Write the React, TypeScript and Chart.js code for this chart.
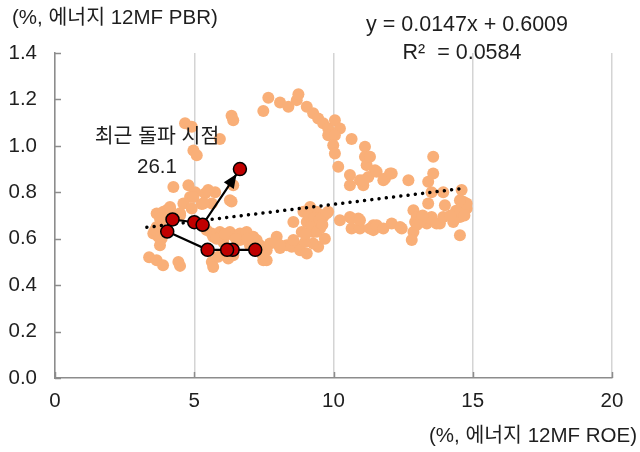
import React, { useEffect, useRef } from "react";
import { Chart, registerables } from "chart.js";

Chart.register(...registerables);

// Historical points: energy 12MF ROE (%) vs 12MF PBR
const roe = [
  3.38, 3.65, 3.88, 4.49, 3.77, 4.43,
  3.65, 4.01, 3.83, 3.89, 3.77, 3.65, 3.53, 3.83, 3.71, 3.59, 4.13, 4.49, 4.13, 4.49, 4.61, 4.91,
  4.67, 4.91, 4.97, 5.09, 5.92, 6.34, 6.4, 4.25, 4.79, 4.85, 5.39, 5.75, 6.34, 6.4, 5.27, 5.03, 5.5, 5.63, 6.28, 4.97, 5.33,
  5.45, 5.75, 6.04, 6.4, 6.76, 7.24, 7.72, 7.96, 5.63, 5.92, 6.28, 6.64, 6.88, 6.04, 6.64, 7.12, 7.0, 7.24, 5.63, 5.68, 5.86, 6.22, 6.4, 7.48, 7.96, 8.32, 5.68, 7.36, 8.08, 8.62,
  5.8, 6.1, 6.5, 6.9,
  7.42, 7.6, 7.6, 7.9, 8.08, 8.5, 8.8, 9.04, 9.45, 9.27, 8.98, 8.56, 8.86, 9.27, 9.04, 9.34, 8.56, 8.92, 9.16, 9.39, 9.63, 9.81, 9.52, 9.69, 9.75,
  9.1, 9.3, 9.5, 9.2, 9.4, 9.0, 9.6,
  10.23, 10.59, 10.89, 10.65, 10.95, 11.43, 10.65, 10.95, 11.43, 11.31, 11.55, 11.79, 12.09, 12.45, 12.39, 12.87, 12.93, 12.87, 12.81, 13.35, 13.52, 13.82, 13.46, 13.7, 13.94, 13.4, 14.0, 14.3, 14.54, 14.66, 14.78, 14.54, 14.36, 14.66, 14.78, 14.54, 14.6, 13.94, 13.52, 13.4, 13.58, 13.58, 12.99, 13.11,
  14.4, 14.7, 14.2, 13.2, 13.0,
  7.48, 7.66, 8.08, 8.38, 8.68, 8.74, 9.04, 9.27, 9.45, 9.63, 9.81, 10.05, 10.23, 9.81, 10.05, 9.99, 10.05, 10.65, 10.17, 11.13, 11.13, 11.19, 11.49, 10.59, 10.95, 11.25, 11.55, 12.03, 11.79, 12.69, 10.59, 11.07, 11.31, 11.07, 11.85, 12.09,
];
const pbr = [
  0.52, 0.507, 0.486, 0.483, 0.572, 0.5,
  0.709, 0.723, 0.68, 0.716, 0.687, 0.651, 0.622, 0.601, 0.608, 0.637, 0.737, 0.701, 0.73, 0.71, 0.752, 0.73,
  1.097, 1.082, 0.98, 0.96, 1.03, 1.13, 1.11, 0.823, 0.83, 0.78, 0.795, 0.8, 0.76, 0.83, 0.75, 0.8, 0.81, 0.752, 0.766, 0.78, 0.752,
  0.637, 0.615, 0.601, 0.615, 0.601, 0.594, 0.579, 0.608, 0.622, 0.629, 0.629, 0.622, 0.629, 0.586, 0.594, 0.608, 0.572, 0.565, 0.5, 0.478, 0.522, 0.515, 0.529, 0.507, 0.579, 0.572, 0.608, 0.572, 0.56, 0.576,
  0.6, 0.62, 0.6, 0.6,
  0.536, 0.55, 0.507, 0.586, 0.572, 0.565, 0.55, 0.536, 0.565, 0.579, 0.586, 0.594, 0.629, 0.629, 0.672, 0.666, 0.672, 0.716, 0.737, 0.716, 0.694, 0.716, 0.645, 0.6, 0.709,
  0.7, 0.69, 0.68, 0.65, 0.63, 0.62, 0.66,
  0.68, 0.694, 0.687, 0.644, 0.644, 0.637, 0.687, 0.68, 0.658, 0.644, 0.658, 0.644, 0.666, 0.644, 0.651, 0.723, 0.672, 0.629, 0.594, 0.666, 0.694, 0.666, 0.687, 0.666, 0.694, 0.752, 0.744, 0.672, 0.694, 0.759, 0.73, 0.615, 0.687, 0.723, 0.752, 0.766, 0.81, 0.8, 0.8, 0.845, 0.881, 0.953, 0.694, 0.672,
  0.72, 0.7, 0.7, 0.7, 0.66,
  1.15, 1.207, 1.187, 1.168, 1.197, 1.222, 1.168, 1.14, 1.118, 1.097, 1.075, 1.11, 1.075, 1.046, 1.046, 1.003, 0.967, 1.03, 0.91, 0.996, 0.953, 0.917, 0.895, 0.874, 0.852, 0.866, 0.888, 0.881, 0.852, 0.852, 0.83, 0.83, 0.953, 0.852, 0.859, 0.881,
];

// Recent path (ends at the latest breakout point)
const recentRoe = [7.19, 6.38, 6.18, 5.48, 4.03, 4.22, 5.0, 5.3, 6.64];
const recentPbr = [0.552, 0.552, 0.552, 0.552, 0.631, 0.683, 0.671, 0.66, 0.9];

// Linear trend line endpoints
const trendRoe = [3.3, 14.6];
const trendPbr = [0.649, 0.816];

const xTickValues = [0, 5, 10, 15, 20];
const yTickValues = [0, 0.2, 0.4, 0.6, 0.8, 1.0, 1.2, 1.4];

const yTitle = "(%, 에너지 12MF PBR)";
const xTitle = "(%, 에너지 12MF ROE)";
const equationText = "y = 0.0147x + 0.6009";
const r2Text = "R²  = 0.0584";
const noteTitle = "최근 돌파 시점";
const noteValue = "26.1";

const FONT = "'Liberation Sans', 'Noto Sans CJK KR', Arial, sans-serif";
const TEXT_COLOR = "#1e1e1e";
const AXIS_COLOR = "#8c8c8c";

export default function App() {
  const canvasRef = useRef<HTMLCanvasElement | null>(null);

  useEffect(() => {
    document.body.style.margin = "0";
    const canvas = canvasRef.current;
    if (!canvas) return;

    const toPts = (xs: number[], ys: number[]) => xs.map((x, i) => ({ x, y: ys[i] }));

    const decorPlugin = {
      id: "decor",
      afterDatasetDraw(chart: any, args: any) {
        if (args.index !== 1) return;
        const { ctx, scales } = chart;
        const n = recentRoe.length;
        const x1 = scales.x.getPixelForValue(recentRoe[n - 2]);
        const y1 = scales.y.getPixelForValue(recentPbr[n - 2]);
        const x2 = scales.x.getPixelForValue(recentRoe[n - 1]);
        const y2 = scales.y.getPixelForValue(recentPbr[n - 1]);
        const ang = Math.atan2(y2 - y1, x2 - x1);
        const tipX = x2 - Math.cos(ang) * 6;
        const tipY = y2 - Math.sin(ang) * 6;
        const len = 14;
        const half = 6;
        const bx = tipX - Math.cos(ang) * len;
        const by = tipY - Math.sin(ang) * len;
        ctx.save();
        ctx.fillStyle = "#000";
        ctx.beginPath();
        ctx.moveTo(tipX, tipY);
        ctx.lineTo(bx + Math.sin(ang) * half, by - Math.cos(ang) * half);
        ctx.lineTo(bx - Math.sin(ang) * half, by + Math.cos(ang) * half);
        ctx.closePath();
        ctx.fill();
        ctx.restore();
      },
      afterDraw(chart: any) {
        const { ctx, scales, chartArea } = chart;
        ctx.save();
        // inward tick marks
        ctx.strokeStyle = AXIS_COLOR;
        ctx.lineWidth = 1.5;
        yTickValues.forEach((v) => {
          const y = Math.round(scales.y.getPixelForValue(v)) + 0.5;
          ctx.beginPath();
          ctx.moveTo(chartArea.left, y);
          ctx.lineTo(chartArea.left + 6, y);
          ctx.stroke();
        });
        xTickValues.forEach((v) => {
          const x = Math.round(scales.x.getPixelForValue(v)) + 0.5;
          ctx.beginPath();
          ctx.moveTo(x, chartArea.bottom);
          ctx.lineTo(x, chartArea.bottom - 6);
          ctx.stroke();
        });
        // texts
        ctx.fillStyle = TEXT_COLOR;
        ctx.font = `20.5px ${FONT}`;
        ctx.textBaseline = "middle";
        ctx.textAlign = "left";
        ctx.fillText(yTitle, 12, 18);
        ctx.textAlign = "right";
        ctx.fillText(xTitle, 637, 436);
        ctx.textAlign = "center";
        ctx.fillText(noteTitle, 157, 137);
        ctx.fillText(noteValue, 157, 167);
        ctx.font = `21.5px ${FONT}`;
        ctx.fillText(equationText, 467, 25);
        ctx.fillText(r2Text, 462, 53);
        ctx.restore();
      },
    };

    const chart = new Chart(canvas, {
      type: "scatter",
      data: {
        datasets: [
          {
            data: toPts(recentRoe, recentPbr),
            showLine: false,
            pointRadius: 6.5,
            pointBackgroundColor: "#C00000",
            pointBorderColor: "#000000",
            pointBorderWidth: 1.5,
            order: 0,
          },
          {
            data: toPts(recentRoe, recentPbr),
            showLine: true,
            borderColor: "#000000",
            borderWidth: 2.2,
            pointRadius: 0,
            fill: false,
            order: 1,
          },
          {
            data: toPts(trendRoe, trendPbr),
            showLine: true,
            borderColor: "#000000",
            borderWidth: 3.5,
            borderDash: [0.01, 7.3],
            borderCapStyle: "round",
            pointRadius: 0,
            fill: false,
            order: 2,
          },
          {
            data: toPts(roe, pbr),
            showLine: false,
            pointRadius: 6,
            pointBackgroundColor: "#F9AF78",
            pointBorderWidth: 0,
            order: 3,
          },
        ],
      },
      options: {
        animation: false,
        responsive: true,
        maintainAspectRatio: false,
        layout: { padding: { top: 53, right: 28, left: 0, bottom: 0 } },
        plugins: {
          legend: { display: false },
          tooltip: { enabled: false },
        },
        scales: {
          x: {
            type: "linear",
            min: 0,
            max: 20,
            afterBuildTicks: (s: any) => {
              s.ticks = xTickValues.map((v) => ({ value: v }));
            },
            ticks: {
              color: TEXT_COLOR,
              font: { family: FONT, size: 20.5 },
              padding: 11,
              maxRotation: 0,
            },
            grid: { color: "#d4d4d4", lineWidth: 1.5, drawTicks: false },
            border: { display: true, color: AXIS_COLOR, width: 1.5 },
            afterFit: (s: any) => {
              s.height = 452 - 378;
            },
          },
          y: {
            type: "linear",
            min: 0,
            max: 1.4,
            afterBuildTicks: (s: any) => {
              s.ticks = yTickValues.map((v) => ({ value: v }));
            },
            ticks: {
              color: TEXT_COLOR,
              font: { family: FONT, size: 20.5 },
              padding: 18,
              callback: (v: any) => Number(v).toFixed(1),
            },
            grid: { display: false, drawTicks: false },
            border: { display: true, color: AXIS_COLOR, width: 1.5 },
            afterFit: (s: any) => {
              s.width = 55;
            },
          },
        },
      },
      plugins: [decorPlugin],
    });

    return () => chart.destroy();
  }, []);

  return (
    <div style={{ width: 640, height: 452, position: "relative" }}>
      <canvas ref={canvasRef} />
    </div>
  );
}
